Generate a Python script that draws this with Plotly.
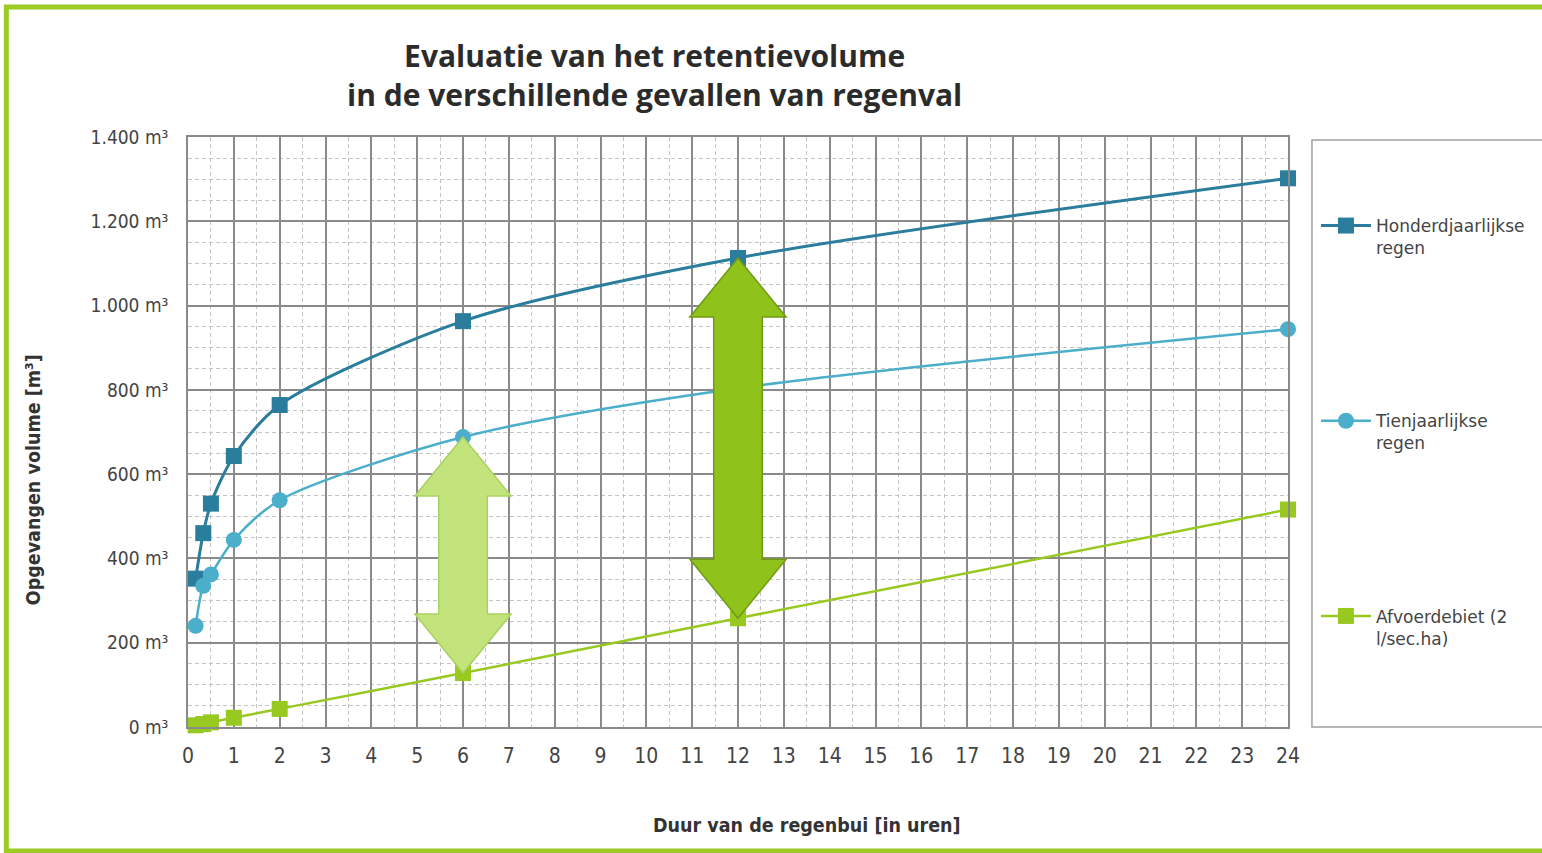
import plotly.graph_objects as go

# ---- data ----
hours = [1/6, 1/3, 0.5, 1, 2, 6, 12, 24]
honderd = [352, 460, 530, 643, 764, 963, 1113, 1302]
tien = [240, 335, 362, 444, 538, 688, 804, 944]
afvoer = [4, 7, 11, 22, 43, 128, 258, 516]

x_ticks = list(range(0, 25))
y_ticks = [0, 200, 400, 600, 800, 1000, 1200, 1400]
y_ticktext = ["0 m³", "200 m³", "400 m³", "600 m³", "800 m³", "1.000 m³", "1.200 m³", "1.400 m³"]

names = ["Honderdjaarlijkse<br>regen", "Tienjaarlijkse<br>regen", "Afvoerdebiet (2<br>l/sec.ha)"]
title_lines = ["Evaluatie van het retentievolume", "in de verschillende gevallen van regenval"]

C_DARK = "#2A7D9C"
C_LIGHT = "#4BAECA"
C_GREEN = "#98C920"

NARROW = "Liberation Sans Narrow, Arial Narrow, DejaVu Sans Condensed, sans-serif"

fig = go.Figure()
series = [
    (honderd, names[0], C_DARK, "square", 3),
    (tien, names[1], C_LIGHT, "circle", 2.5),
    (afvoer, names[2], C_GREEN, "square", 2.5),
]
for i, (vals, nm, col, sym, w) in enumerate(series):
    fig.add_trace(go.Scatter(
        x=hours, y=vals, name=nm, mode="lines+markers",
        line=dict(color=col, width=w, shape="spline", smoothing=0.8),
        marker=dict(color=col, symbol=sym, size=16),
        cliponaxis=False, legendgroup=f"g{i}",
    ))

# ---- double arrows (derived from data values) ----
def arrow_path(xc, yb, yt, head_len=140, head_hw=1.05, shaft_hw=0.53):
    pts = [
        (xc, yt), (xc + head_hw, yt - head_len), (xc + shaft_hw, yt - head_len),
        (xc + shaft_hw, yb + head_len), (xc + head_hw, yb + head_len), (xc, yb),
        (xc - head_hw, yb + head_len), (xc - shaft_hw, yb + head_len),
        (xc - shaft_hw, yt - head_len), (xc - head_hw, yt - head_len),
    ]
    return "M " + " L ".join(f"{x},{y}" for x, y in pts) + " Z"

i6 = hours.index(6)
i12 = hours.index(12)
shapes = [
    dict(type="path", xref="x", yref="y", layer="above",
         path=arrow_path(6, afvoer[i6], tien[i6]),
         fillcolor="#C3E47C", line=dict(color="#A9D160", width=1.5)),
    dict(type="path", xref="x", yref="y", layer="above",
         path=arrow_path(12, afvoer[i12], honderd[i12]),
         fillcolor="#8FC21A", line=dict(color="#6F9A14", width=1.5)),
]

# plot area: px x 188..1290, y 137..727
PW, PH = 1102, 590
def px(xp):
    return (xp - 188) / PW
def py(yp):
    return (727 - yp) / PH

# legend box and outer frame
shapes.append(dict(type="rect", xref="paper", yref="paper", layer="below",
                   x0=px(1314), x1=px(1570), y0=py(727), y1=py(140),
                   line=dict(color="#A0A0A0", width=1.5), fillcolor="rgba(0,0,0,0)"))
shapes.append(dict(type="rect", xref="paper", yref="paper", layer="below",
                   x0=px(6), x1=px(1565), y0=py(851), y1=py(7),
                   line=dict(color="#9CCB23", width=5), fillcolor="rgba(0,0,0,0)"))

TITLE_FONT = dict(family="Open Sans, Lato, sans-serif", size=30, color="#2B2B2B")
annotations = [
    dict(text=f"<b>{title_lines[0]}<br>{title_lines[1]}</b>",
         xref="paper", yref="paper", x=px(655), y=py(74.5), xanchor="center", yanchor="middle",
         showarrow=False, font=TITLE_FONT),
    dict(text="<b>Duur van de regenbui [in uren]</b>",
         xref="paper", yref="paper", x=px(808), y=py(825), xanchor="center", yanchor="middle",
         showarrow=False, font=dict(family=NARROW, size=19.5, color="#333333")),
    dict(text="<b>Opgevangen volume [m³]</b>", textangle=-90,
         xref="paper", yref="paper", x=px(33), y=py(480), xanchor="center", yanchor="middle",
         showarrow=False, font=dict(family=NARROW, size=19.5, color="#333333")),
]

fig.update_layout(
    width=1542, height=853,
    margin=dict(l=188, r=1542 - 1290, t=137, b=853 - 727),
    paper_bgcolor="white", plot_bgcolor="white",
    showlegend=True,
    legend=dict(x=px(1318), xanchor="left", y=py(208), yanchor="top",
                valign="top", tracegroupgap=148, itemwidth=50, bgcolor="rgba(0,0,0,0)",
                font=dict(family="DejaVu Sans, Verdana, sans-serif", size=17, color="#444444")),
    shapes=shapes, annotations=annotations,
)

fig.update_xaxes(
    range=[0, 24], tickvals=x_ticks, ticktext=[str(t) for t in x_ticks],
    showgrid=True, gridcolor="#8A8A8A", gridwidth=1.5,
    minor=dict(dtick=0.5, showgrid=True, gridcolor="#C4C4C4", griddash="4px,3px", gridwidth=1),
    showline=True, linecolor="#8A8A8A", linewidth=1.5, mirror=True,
    ticks="", zeroline=False, ticklabelstandoff=9,
    tickfont=dict(family=NARROW, size=21, color="#444444"),
)
fig.update_yaxes(
    range=[0, 1400], tickvals=y_ticks, ticktext=y_ticktext,
    showgrid=True, gridcolor="#8A8A8A", gridwidth=1.5,
    minor=dict(dtick=50, showgrid=True, gridcolor="#C4C4C4", griddash="4px,3px", gridwidth=1),
    showline=True, linecolor="#8A8A8A", linewidth=1.5, mirror=True,
    ticks="", zeroline=False, ticklabelstandoff=14,
    tickfont=dict(family=NARROW, size=19, color="#444444"),
)

fig.write_html("out.html", config={"displayModeBar": False},
               post_script="document.body.style.margin='0';")
